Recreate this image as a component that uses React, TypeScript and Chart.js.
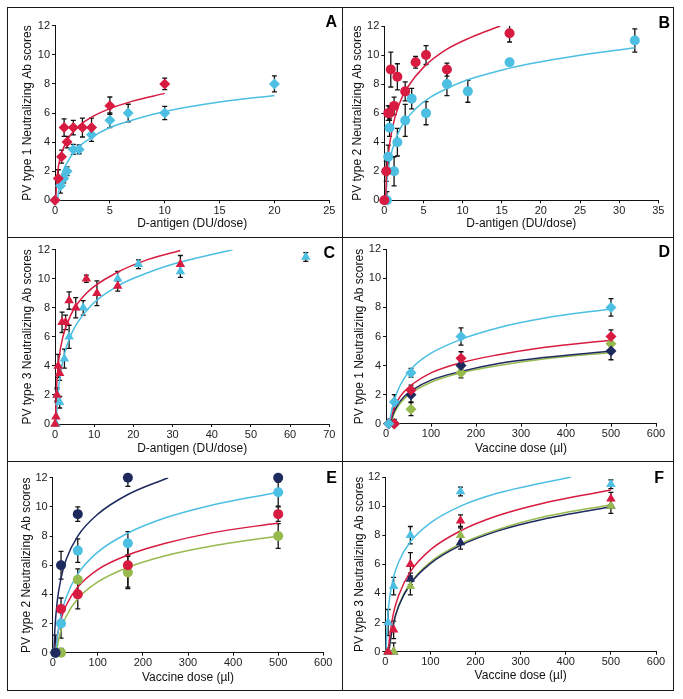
import React, { useEffect, useRef } from "react";
import { Chart, registerables } from "chart.js";
Chart.register(...registerables);

const FONT = "'Liberation Sans', Arial, sans-serif";
const RED = "#d81b40";
const CYAN = "#4cbfe2";
const NAVY = "#1e2a5e";
const GREEN = "#97ba4f";

// ---------- Panel A : PV type 1, D-antigen ----------
const aRedX = [0, 0.3, 0.6, 0.83, 1.1, 1.67, 2.5, 3.33, 5, 10];
const aRedY = [0, 1.5, 3, 5, 4, 5, 5, 5, 6.5, 8];
const aRedErr = [0, 0.6, 0.45, 0.6, 0.4, 0.5, 0.65, 0.65, 0.6, 0.4];
const aCyanX = [0, 0.5, 0.8, 1.1, 1.67, 2.2, 3.33, 5, 6.67, 10, 20];
const aCyanY = [0, 1, 1.5, 2, 3.5, 3.5, 4.5, 5.5, 6, 6, 8];
const aCyanErr = [0, 0.5, 0.3, 0.3, 0.35, 0.3, 0.45, 0.5, 0.6, 0.45, 0.55];
const aRedFitX = [0.07, 0.15, 0.3, 0.5, 1, 2, 3.3, 5, 7, 10];
const aRedFitY = [0, 1.25, 2.25, 3.0, 4.0, 5.0, 5.7, 6.3, 6.8, 7.35];
const aCyanFitX = [0.22, 0.4, 0.7, 1, 2, 3.3, 5, 7, 10, 15, 20];
const aCyanFitY = [0, 1.0, 1.9, 2.45, 3.55, 4.3, 5.0, 5.5, 6.1, 6.75, 7.2];

// ---------- Panel B : PV type 2, D-antigen ----------
const bRedX = [0, 0.25, 0.5, 0.67, 0.83, 1.25, 1.67, 2.67, 4, 5.33, 8, 16];
const bRedY = [0, 2, 6, 6, 9, 6.5, 8.5, 7.5, 9.5, 10, 9, 11.5];
const bRedErr = [0, 0.7, 0.5, 0.5, 1.2, 0.6, 0.9, 0.65, 0.4, 0.65, 0.45, 0.6];
const bCyanX = [0.33, 0.5, 0.67, 1.25, 1.67, 2.67, 3.5, 5.33, 8, 10.67, 16, 32];
const bCyanY = [0, 3, 5, 2, 4, 5.5, 7, 6, 8, 7.5, 9.5, 11];
const bCyanErr = [0.6, 0.8, 0.6, 1.0, 0.95, 1.1, 0.7, 0.8, 0.8, 0.75, 0, 0.8];
const bRedFitX = [0.16, 0.3, 0.5, 1, 2, 3, 5, 8, 11, 14.8];
const bRedFitY = [0, 1.75, 3.1, 4.9, 6.75, 7.8, 9.15, 10.4, 11.2, 12];
const bCyanFitX = [0.18, 0.35, 0.6, 1, 2, 4, 8, 16, 24, 32];
const bCyanFitY = [0, 1.35, 2.45, 3.45, 4.9, 6.3, 7.7, 9.1, 9.9, 10.5];

// ---------- Panel C : PV type 3, D-antigen ----------
const cRedX = [0, 0.25, 0.5, 0.8, 1.2, 1.8, 2.7, 3.6, 5.3, 8, 10.7, 16, 32];
const cRedY = [0, 0.5, 2, 4, 3.5, 7, 7, 8.5, 8, 10, 9, 9.5, 11];
const cRedErr = [0, 0, 0.4, 0.8, 0.5, 0.7, 0.5, 0.6, 0.7, 0.25, 0.85, 0.35, 0.6];
const cCyanX = [0.25, 0.5, 1.2, 2.4, 3.6, 7.2, 16, 21.3, 32, 64];
const cCyanY = [0, 2, 1.5, 4.5, 6, 8, 10, 11, 10.5, 11.5];
const cCyanErr = [0, 0.5, 0.4, 0.65, 0.8, 0.5, 0.5, 0.3, 0.4, 0.3];
const cRedFitX = [0.13, 0.25, 0.5, 1, 2, 4, 8, 16, 24, 32];
const cRedFitY = [0, 1.5, 3.0, 4.5, 6.0, 7.5, 9.0, 10.45, 11.35, 11.95];
const cCyanFitX = [0.33, 0.6, 1, 2, 4, 8, 16, 24, 32, 45.3];
const cCyanFitY = [0, 1.45, 2.7, 4.4, 6.1, 7.8, 9.5, 10.45, 11.15, 12.0];

// ---------- Vaccine dose panels ----------
const DOSES = [6.2, 18.5, 55.6, 166.7, 500];

// Panel D : PV type 1
const dCyanY = [0, 1.5, 3.5, 6, 8];
const dCyanErr = [0, 0.5, 0.3, 0.6, 0.6];
const dRedY = [0, 0, 2.3, 4.5, 6];
const dRedErr = [0, 0, 0.35, 0.45, 0.45];
const dNavyY = [0, 0, 2, 4, 5];
const dNavyErr = [0.3, 0.3, 0.5, 0.3, 0.6];
const dGreenY = [0, 0, 1, 3.5, 5.5];
const dGreenErr = [0, 0, 0.45, 0.35, 0];
const dCyanFitX = [7.8, 10, 15, 25, 40, 60, 100, 166.7, 250, 350, 500];
const dCyanFitY = [0, 0.48, 1.25, 2.2, 3.1, 3.9, 4.85, 5.8, 6.6, 7.25, 7.9];
const dRedFitX = [8.4, 10, 15, 25, 40, 60, 100, 166.7, 250, 350, 500];
const dRedFitY = [0, 0.25, 0.8, 1.55, 2.2, 2.75, 3.5, 4.2, 4.75, 5.25, 5.75];
const dNavyFitX = [9.5, 15, 25, 40, 60, 100, 166.7, 250, 350, 500];
const dNavyFitY = [0, 0.6, 1.25, 1.85, 2.35, 3.0, 3.6, 4.15, 4.55, 5.0];
const dGreenFitX = [10.5, 15, 25, 40, 60, 100, 166.7, 250, 350, 500];
const dGreenFitY = [0, 0.45, 1.1, 1.7, 2.2, 2.85, 3.5, 4.0, 4.45, 4.9];

// Panel E : PV type 2
const eNavyY = [0, 6, 9.5, 12, 12];
const eNavyErr = [1.2, 0.95, 0.5, 0.6, 0.3];
const eCyanY = [0, 2, 7, 7.5, 11];
const eCyanErr = [0, 1.0, 0.8, 0.8, 0.95];
const eRedY = [0, 3, 4, 6, 9.5];
const eRedErr = [0, 0.75, 1.0, 1.5, 0.5];
const eGreenY = [0, 0, 5, 5.5, 8];
const eGreenErr = [0, 0.3, 0.75, 1.1, 0.85];
const eNavyFitX = [2.6, 5, 10, 18.5, 30, 55.6, 100, 166.7, 256];
const eNavyFitY = [0, 1.7, 3.5, 5.1, 6.4, 8.0, 9.5, 10.85, 12];
const eCyanFitX = [6.7, 10, 18.5, 30, 55.6, 100, 166.7, 250, 350, 500];
const eCyanFitY = [0, 1.0, 2.6, 3.8, 5.4, 6.9, 8.2, 9.25, 10.1, 11.0];
const eRedFitX = [5.8, 10, 18.5, 30, 55.6, 100, 166.7, 250, 350, 500];
const eRedFitY = [0, 1.1, 2.3, 3.25, 4.5, 5.7, 6.7, 7.5, 8.2, 8.9];
const eGreenFitX = [8.4, 10, 18.5, 30, 55.6, 100, 166.7, 250, 350, 500];
const eGreenFitY = [0, 0.35, 1.55, 2.5, 3.7, 4.85, 5.85, 6.65, 7.3, 8.0];

// Panel F : PV type 3
const fCyanY = [2, 4.5, 8, 11, 11.5];
const fCyanErr = [0.9, 0.6, 0.6, 0.3, 0.3];
const fRedY = [0, 1.5, 6, 9, 10.5];
const fRedErr = [0, 0.6, 0.8, 0.4, 0.45];
const fGreenY = [0, 0, 4.5, 8, 10];
const fGreenErr = [0, 0, 0.6, 0.5, 0];
const fNavyY = [0, 0, 5, 7.5, 10];
const fNavyErr = [0, 0.6, 0.4, 0.45, 0.5];
const fCyanFitX = [1.8, 3, 6.2, 10, 18.5, 30, 55.6, 100, 166.7, 250, 350, 412];
const fCyanFitY = [0, 1.1, 2.7, 3.8, 5.15, 6.2, 7.55, 8.85, 10.0, 10.9, 11.6, 12.0];
const fRedFitX = [6.4, 10, 18.5, 30, 55.6, 100, 166.7, 250, 350, 500];
const fRedFitY = [0, 1.1, 2.7, 3.9, 5.5, 7.0, 8.3, 9.35, 10.2, 11.1];
const fNavyFitX = [8.1, 10, 18.5, 30, 55.6, 100, 166.7, 250, 350, 500];
const fNavyFitY = [0, 0.5, 2.0, 3.15, 4.65, 6.05, 7.3, 8.3, 9.1, 9.95];
const fGreenFitX = [8.25, 10, 18.5, 30, 55.6, 100, 166.7, 250, 350, 500];
const fGreenFitY = [0, 0.5, 2.0, 3.2, 4.7, 6.15, 7.4, 8.4, 9.25, 10.1];

type Series = { x: number[]; y: number[]; err: number[]; color: string; shape: string; radius: number };
type Fit = { x: number[]; y: number[]; color: string };
type Panel = {
  letter: string;
  cell: [number, number, number, number];
  area: [number, number, number, number];
  xMax: number;
  xStep: number;
  xTitle: string;
  yTitle: string;
  yTitleX: number;
  xTitleY: number;
  letterPos: [number, number];
  series: Series[];
  fits: Fit[];
};

const S = (x: number[], y: number[], err: number[], color: string, shape: string, radius = 5): Series => ({ x, y, err, color, shape, radius });
const F = (x: number[], y: number[], color: string): Fit => ({ x, y, color });

const DA = "D-antigen (DU/dose)";
const VD = "Vaccine dose (\u00b5l)";

const PANELS: Panel[] = [
  {
    letter: "A", cell: [8, 8, 342, 237], area: [55, 25.7, 329.3, 200.3], xMax: 25, xStep: 5,
    xTitle: DA, yTitle: "PV type 1 Neutralizing Ab scores", yTitleX: 28, xTitleY: 223.5, letterPos: [337, 16],
    series: [S(aRedX, aRedY, aRedErr, RED, "rectRot", 5.5), S(aCyanX, aCyanY, aCyanErr, CYAN, "rectRot", 5.5)],
    fits: [F(aRedFitX, aRedFitY, RED), F(aCyanFitX, aCyanFitY, CYAN)],
  },
  {
    letter: "B", cell: [343, 8, 673, 237], area: [384.3, 26, 658.3, 200.3], xMax: 35, xStep: 5,
    xTitle: DA, yTitle: "PV type 2 Neutralizing Ab scores", yTitleX: 358, xTitleY: 224, letterPos: [670, 17],
    series: [S(bRedX, bRedY, bRedErr, RED, "circle"), S(bCyanX, bCyanY, bCyanErr, CYAN, "circle")],
    fits: [F(bRedFitX, bRedFitY, RED), F(bCyanFitX, bCyanFitY, CYAN)],
  },
  {
    letter: "C", cell: [8, 238, 342, 461], area: [55, 249.7, 329.3, 424], xMax: 70, xStep: 10,
    xTitle: DA, yTitle: "PV type 3 Neutralizing Ab scores", yTitleX: 28, xTitleY: 448.5, letterPos: [335, 247],
    series: [S(cRedX, cRedY, cRedErr, RED, "triangle", 5.5), S(cCyanX, cCyanY, cCyanErr, CYAN, "triangle", 5.5)],
    fits: [F(cRedFitX, cRedFitY, RED), F(cCyanFitX, cCyanFitY, CYAN)],
  },
  {
    letter: "D", cell: [343, 238, 673, 461], area: [386, 249.3, 656, 423.7], xMax: 600, xStep: 100,
    xTitle: VD, yTitle: "PV type 1 Neutralizing Ab scores", yTitleX: 360, xTitleY: 448.5, letterPos: [670, 246],
    series: [
      S(DOSES, dCyanY, dCyanErr, CYAN, "rectRot", 5.5),
      S(DOSES, dRedY, dRedErr, RED, "rectRot", 5.5),
      S(DOSES, dNavyY, dNavyErr, NAVY, "rectRot", 5.5),
      S(DOSES, dGreenY, dGreenErr, GREEN, "rectRot", 5.5),
    ],
    fits: [F(dCyanFitX, dCyanFitY, CYAN), F(dRedFitX, dRedFitY, RED), F(dNavyFitX, dNavyFitY, NAVY), F(dGreenFitX, dGreenFitY, GREEN)],
  },
  {
    letter: "E", cell: [8, 462, 342, 690], area: [52.7, 477.7, 323.3, 652.7], xMax: 600, xStep: 100,
    xTitle: VD, yTitle: "PV type 2 Neutralizing Ab scores", yTitleX: 26.5, xTitleY: 678, letterPos: [337, 472],
    series: [
      S(DOSES, eNavyY, eNavyErr, NAVY, "circle"),
      S(DOSES, eCyanY, eCyanErr, CYAN, "circle"),
      S(DOSES, eRedY, eRedErr, RED, "circle"),
      S(DOSES, eGreenY, eGreenErr, GREEN, "circle"),
    ],
    fits: [F(eNavyFitX, eNavyFitY, NAVY), F(eCyanFitX, eCyanFitY, CYAN), F(eRedFitX, eRedFitY, RED), F(eGreenFitX, eGreenFitY, GREEN)],
  },
  {
    letter: "F", cell: [343, 462, 673, 690], area: [385.3, 477, 656, 651.7], xMax: 600, xStep: 100,
    xTitle: VD, yTitle: "PV type 3 Neutralizing Ab scores", yTitleX: 359.5, xTitleY: 676, letterPos: [664, 472],
    series: [
      S(DOSES, fCyanY, fCyanErr, CYAN, "triangle", 5.5),
      S(DOSES, fRedY, fRedErr, RED, "triangle", 5.5),
      S(DOSES, fGreenY, fGreenErr, GREEN, "triangle", 5.5),
      S(DOSES, fNavyY, fNavyErr, NAVY, "triangle", 5.5),
    ],
    fits: [F(fCyanFitX, fCyanFitY, CYAN), F(fRedFitX, fRedFitY, RED), F(fNavyFitX, fNavyFitY, NAVY), F(fGreenFitX, fGreenFitY, GREEN)],
  },
];

const errorBars = {
  id: "errorBars",
  beforeDatasetsDraw(chart: any) {
    const ctx = chart.ctx;
    const xs = chart.scales.x;
    const ys = chart.scales.y;
    const a = chart.chartArea;
    ctx.save();
    ctx.beginPath();
    ctx.rect(a.left - 10, a.top, a.right - a.left + 20, a.bottom - a.top);
    ctx.clip();
    ctx.strokeStyle = "#111";
    ctx.lineWidth = 1.3;
    chart.data.datasets.forEach((ds: any) => {
      if (!ds.err) return;
      ds.data.forEach((p: any, j: number) => {
        const e = ds.err[j];
        if (!e) return;
        const px = xs.getPixelForValue(p.x);
        const t = ys.getPixelForValue(p.y + e);
        const b = ys.getPixelForValue(p.y - e);
        ctx.beginPath();
        ctx.moveTo(px, t);
        ctx.lineTo(px, b);
        ctx.moveTo(px - 2.5, t);
        ctx.lineTo(px + 2.5, t);
        ctx.moveTo(px - 2.5, b);
        ctx.lineTo(px + 2.5, b);
        ctx.stroke();
      });
    });
    ctx.restore();
  },
};

function PanelChart({ p }: { p: Panel }) {
  const ref = useRef<HTMLCanvasElement>(null);
  const [x0, y0, x1, y1] = p.cell;
  const [l, t, r, b] = p.area;
  const w = x1 - x0;
  const h = y1 - y0;
  useEffect(() => {
    if (!ref.current) return;
    const datasets: any[] = [];
    p.series.forEach((s) => {
      datasets.push({
        data: s.x.map((v, i) => ({ x: v, y: s.y[i] })),
        err: s.err,
        pointStyle: s.shape,
        pointRadius: s.radius,
        backgroundColor: s.color,
        borderColor: s.color,
        borderWidth: 0,
        showLine: false,
        clip: false,
      });
    });
    p.fits.forEach((f) => {
      datasets.push({
        data: f.x.map((v, i) => ({ x: v, y: f.y[i] })),
        showLine: true,
        borderColor: f.color,
        backgroundColor: f.color,
        borderWidth: 1.5,
        pointRadius: 0,
        cubicInterpolationMode: "monotone",
        fill: false,
      });
    });
    const lh = 12 * 1.2;
    const chart = new Chart(ref.current, {
      type: "scatter",
      data: { datasets },
      plugins: [errorBars],
      options: {
        animation: false,
        responsive: false,
        devicePixelRatio: 1,
        layout: { padding: { left: 0, top: t - y0, right: x1 - r, bottom: 0 } },
        plugins: { legend: { display: false }, tooltip: { enabled: false } },
        scales: {
          x: {
            type: "linear",
            min: 0,
            max: p.xMax,
            ticks: { stepSize: p.xStep, font: { family: FONT, size: 11 }, color: "#222", padding: 1, maxRotation: 0 },
            grid: { drawOnChartArea: false, tickLength: 3, color: "#111" },
            border: { color: "#111", width: 1 },
            title: {
              display: true,
              text: p.xTitle,
              font: { family: FONT, size: 12 },
              color: "#111",
              padding: { top: 0, bottom: y1 - p.xTitleY - lh / 2 },
            },
            afterFit: (s: any) => {
              s.height = y1 - b;
            },
          },
          y: {
            type: "linear",
            min: 0,
            max: 12,
            ticks: { stepSize: 2, font: { family: FONT, size: 11 }, color: "#222", padding: 2 },
            grid: { drawOnChartArea: false, tickLength: 3, color: "#111" },
            border: { color: "#111", width: 1 },
            title: {
              display: true,
              text: p.yTitle,
              font: { family: FONT, size: 12 },
              color: "#111",
              padding: { top: p.yTitleX - x0 - lh / 2, bottom: 0 },
            },
            afterFit: (s: any) => {
              s.width = l - x0;
            },
          },
        },
      } as any,
    });
    return () => chart.destroy();
  }, []);
  return (
    <>
      <canvas ref={ref} width={w} height={h} style={{ position: "absolute", left: x0, top: y0, width: w, height: h }} />
      <div
        style={{
          position: "absolute",
          left: p.letterPos[0] - 30,
          top: p.letterPos[1] - 2,
          width: 30,
          textAlign: "right",
          font: `bold 16px ${FONT}`,
          lineHeight: "16px",
          color: "#000",
        }}
      >
        {p.letter}
      </div>
    </>
  );
}

const LINE = "#1a1a1a";

export default function App() {
  return (
    <div style={{ position: "absolute", left: 0, top: 0, width: 683, height: 699, background: "#fff", overflow: "hidden" }}>
      {PANELS.map((p) => (
        <PanelChart key={p.letter} p={p} />
      ))}
      <div style={{ position: "absolute", left: 7, top: 7, width: 667, height: 684, border: `1px solid ${LINE}`, boxSizing: "border-box" as any, pointerEvents: "none" }} />
      <div style={{ position: "absolute", left: 342, top: 7, width: 1, height: 684, background: LINE }} />
      <div style={{ position: "absolute", left: 7, top: 237, width: 667, height: 1, background: LINE }} />
      <div style={{ position: "absolute", left: 7, top: 461, width: 667, height: 1, background: LINE }} />
    </div>
  );
}
